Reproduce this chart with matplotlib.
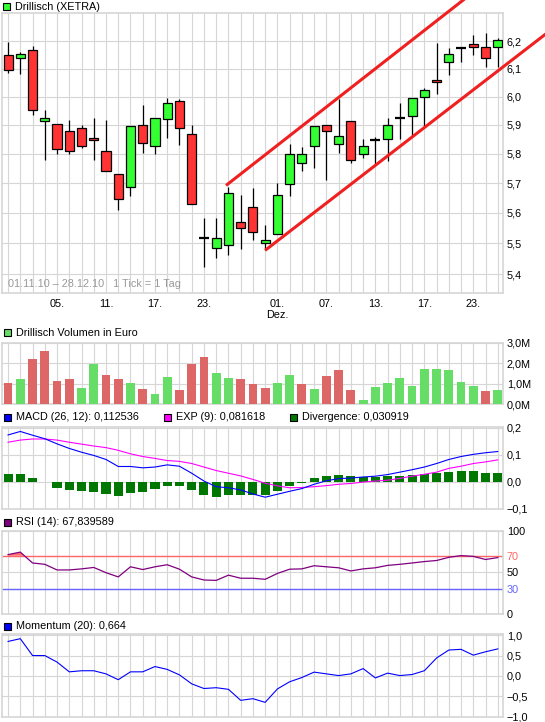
import matplotlib
matplotlib.use('Agg')
import matplotlib.pyplot as plt
from matplotlib.patches import Rectangle
from matplotlib.ticker import FixedLocator, FixedFormatter, NullLocator

plt.rcParams['font.family'] = ['Liberation Sans', 'DejaVu Sans']
plt.rcParams['font.size'] = 7.8

W, H = 545, 722

# --- Drillisch (XETRA) daily candles, 01.11.10 - 28.12.10 ---
opens = [6.150, 6.138, 6.167, 5.914, 5.904, 5.879, 5.890, 5.856, 5.810, 5.731,
         5.687, 5.900, 5.828, 5.922, 5.984, 5.869, 5.517, 5.484, 5.494, 5.570,
         5.618, 5.500, 5.529, 5.697, 5.769, 5.828, 5.900, 5.834, 5.914, 5.800,
         5.848, 5.852, 5.926, 5.931, 5.998, 6.059, 6.126, 6.174, 6.192, 6.181,
         6.180]
highs = [6.196, 6.160, 6.182, 5.952, 5.904, 5.916, 5.900, 5.926, 5.919, 5.731,
         5.896, 5.970, 5.925, 5.994, 5.990, 5.898, 5.584, 5.584, 5.688, 5.661,
         5.684, 5.559, 5.701, 5.832, 5.822, 5.896, 5.900, 5.990, 5.914, 5.852,
         5.857, 5.923, 5.977, 5.994, 6.029, 6.193, 6.174, 6.174, 6.225, 6.232,
         6.213]
lows = [6.083, 6.080, 5.935, 5.778, 5.800, 5.799, 5.820, 5.778, 5.741, 5.611,
        5.655, 5.802, 5.799, 5.854, 5.830, 5.629, 5.423, 5.452, 5.461, 5.480,
        5.512, 5.479, 5.529, 5.655, 5.740, 5.751, 5.709, 5.802, 5.768, 5.785,
        5.766, 5.775, 5.850, 5.862, 5.896, 6.011, 6.076, 6.126, 6.151, 6.108,
        6.106]
closes = [6.095, 6.152, 5.952, 5.923, 5.818, 5.811, 5.828, 5.848, 5.741, 5.646,
          5.896, 5.838, 5.925, 5.976, 5.890, 5.629, 5.517, 5.516, 5.668, 5.551,
          5.538, 5.510, 5.659, 5.800, 5.800, 5.896, 5.879, 5.862, 5.779, 5.828,
          5.848, 5.900, 5.926, 5.994, 6.025, 6.052, 6.152, 6.174, 6.180, 6.138,
          6.206]

# trend channel (start / end points, index + price)
upper_x = [17.9, 39.0]
upper_y = [5.695, 6.42]
lower_x = [21.1, 44.0]
lower_y = [5.48, 6.23]

price_ticks = [5.4, 5.5, 5.6, 5.7, 5.8, 5.9, 6.0, 6.1, 6.2]
price_labels = ['5,4', '5,5', '5,6', '5,7', '5,8', '5,9', '6,0', '6,1', '6,2']
date_pos = [4, 8, 12, 16, 22, 26, 30, 34, 38]
date_labels = ['05.', '11.', '17.', '23.', '01.\nDez.', '07.', '13.', '17.', '23.']

# --- volume in Mio. Euro ---
volume = [1.01, 1.21, 2.18, 2.58, 1.11, 1.21, 0.81, 1.97, 1.42, 1.21,
          1.01, 0.76, 0.52, 1.32, 0.71, 1.97, 2.28, 1.52, 1.26, 1.21,
          0.96, 0.81, 1.01, 1.42, 0.96, 0.76, 1.37, 1.67, 0.71, 0.20,
          0.86, 1.01, 1.26, 0.91, 1.72, 1.72, 1.67, 1.06, 0.91, 0.66,
          0.71]
vol_dir = ['r', 'g', 'r', 'r', 'r', 'r', 'g', 'g', 'r', 'r',
           'g', 'r', 'g', 'g', 'r', 'r', 'r', 'g', 'g', 'r',
           'r', 'r', 'g', 'g', 'r', 'g', 'r', 'r', 'r', 'g',
           'g', 'g', 'g', 'g', 'g', 'g', 'g', 'g', 'g', 'r',
           'g']

# --- MACD (26, 12), EXP (9), divergence ---
macd = [0.174, 0.187, 0.173, 0.160, 0.141, 0.124, 0.110, 0.098, 0.083, 0.057,
        0.057, 0.052, 0.055, 0.063, 0.058, 0.032, 0.003, -0.018, -0.022, -0.030,
        -0.045, -0.057, -0.046, -0.035, -0.025, -0.009, 0.004, 0.012, 0.014, 0.018,
        0.021, 0.027, 0.036, 0.045, 0.055, 0.068, 0.083, 0.094, 0.102, 0.108,
        0.1125]
signal = [0.147, 0.155, 0.159, 0.159, 0.155, 0.147, 0.140, 0.133, 0.127, 0.117,
          0.104, 0.094, 0.087, 0.079, 0.076, 0.068, 0.055, 0.042, 0.032, 0.022,
          0.009, -0.005, -0.015, -0.022, -0.021, -0.018, -0.014, -0.009, -0.006, -0.001,
          0.003, 0.006, 0.013, 0.021, 0.028, 0.036, 0.050, 0.058, 0.068, 0.074,
          0.0816]
diverg = [0.029, 0.029, 0.014, 0.0, -0.021, -0.031, -0.035, -0.038, -0.046, -0.054,
          -0.042, -0.038, -0.027, -0.017, -0.017, -0.031, -0.050, -0.058, -0.050, -0.050,
          -0.050, -0.050, -0.035, -0.015, -0.004, 0.014, 0.022, 0.026, 0.022, 0.018,
          0.018, 0.022, 0.022, 0.027, 0.029, 0.032, 0.036, 0.041, 0.041, 0.032,
          0.031]

# --- RSI (14) ---
rsi = [71.4, 74.4, 61.3, 59.7, 52.9, 52.9, 54.2, 55.9, 49.6, 44.5,
       56.7, 53.4, 56.7, 59.2, 53.8, 44.5, 40.8, 40.3, 46.6, 42.9,
       42.9, 41.6, 48.7, 53.8, 54.2, 58.0, 56.7, 55.5, 51.7, 54.2,
       55.5, 58.4, 59.7, 61.3, 63.0, 64.3, 68.1, 70.2, 69.3, 65.5,
       67.8]

# --- Momentum (20) ---
momentum = [0.847, 0.915, 0.50, 0.50, 0.34, 0.10, 0.127, 0.127, 0.05, -0.093,
            0.10, 0.10, 0.23, 0.16, 0.025, -0.195, -0.31, -0.29, -0.33, -0.60,
            -0.56, -0.65, -0.32, -0.144, -0.04, 0.093, 0.05, 0.008, 0.05, 0.18,
            -0.05, 0.068, 0.008, 0.034, 0.127, 0.44, 0.636, 0.653, 0.51, 0.593,
            0.664]

days = list(range(len(closes)))
GRID = '#d6d6d6'
RED = '#ff3333'
GREEN = '#33ff33'
XLIM = (-0.47, 40.45)
FS = 7.8

fig = plt.figure(figsize=(W / 100, H / 100), dpi=100)


def panel(top, bottom, left=2.3, right=503.3):
    # axes from pixel box (top-left origin)
    ax = fig.add_axes([left / W, 1 - bottom / H, (right - left) / W, (bottom - top) / H])
    ax.set_xlim(*XLIM)
    ax.set_xticks(days)
    ax.tick_params(axis='x', length=0, labelbottom=False)
    ax.yaxis.tick_right()
    ax.tick_params(axis='y', length=0, pad=2.5, labelsize=FS)
    ax.grid(True, color=GRID, lw=0.8)
    ax.set_axisbelow(True)
    for s in ax.spines.values():
        s.set_color(GRID)
        s.set_linewidth(1.2)
    return ax


def legend_item(x, y, color, text):
    fig.add_artist(Rectangle((x / W, 1 - (y + 3.5) / H), 7 / W, 7 / H,
                             transform=fig.transFigure, facecolor=color,
                             edgecolor='black', lw=0.8))
    fig.text((x + 12) / W, 1 - y / H, text, fontsize=FS, va='center', ha='left')


# ---------------- price ----------------
ax = panel(13.3, 293.3)
ax.set_yscale('log')
ax.set_ylim(5.339, 6.304)
ax.yaxis.set_major_locator(FixedLocator(price_ticks))
ax.yaxis.set_major_formatter(FixedFormatter(price_labels))
ax.yaxis.set_minor_locator(NullLocator())
ax.set_xticks(days)
ax.set_xticklabels([date_labels[date_pos.index(d)] if d in date_pos else '' for d in days])
ax.tick_params(axis='x', labelbottom=True, pad=4, labelsize=FS)

ax.vlines(days, lows, highs, color='black', lw=0.9, zorder=2)
for d in days:
    o, c = opens[d], closes[d]
    if o == c:
        ax.hlines(c, d - 0.4, d + 0.4, color='black', lw=1.6, zorder=3)
        continue
    col = GREEN if c > o else RED
    ax.bar(d, abs(c - o), bottom=min(o, c), width=0.74, color=col,
           edgecolor='black', lw=0.9, zorder=3)

ax.plot(upper_x, upper_y, color='#f02020', lw=2.2, clip_on=False, zorder=4)
ax.plot(lower_x, lower_y, color='#f02020', lw=2.2, clip_on=False, zorder=4)
ax.text(0.0, 5.352, '01.11.10 \u2013 28.12.10   1 Tick = 1 Tag', color='#999999',
        fontsize=FS, va='bottom', ha='left')
legend_item(3, 6.5, GREEN, 'Drillisch (XETRA)')

# ---------------- volume ----------------
ax = panel(342.6, 404.2)
ax.set_ylim(0, 3.0)
ax.set_yticks([0, 1, 2, 3])
ax.set_yticklabels(['0,0M', '1,0M', '2,0M', '3,0M'])
vcols = ['#dd6666' if v == 'r' else '#66dd66' for v in vol_dir]
ax.bar(days, volume, width=0.72, color=vcols, zorder=3)
legend_item(3.5, 333, '#66dd66', 'Drillisch Volumen in Euro')

# ---------------- MACD ----------------
ax = panel(426.6, 508.8)
ax.set_ylim(-0.1, 0.205)
ax.set_yticks([-0.1, 0.0, 0.1, 0.2])
ax.set_yticklabels(['\u22120,1', '0,0', '0,1', '0,2'])
ax.bar(days, diverg, width=0.74, color='#007700', zorder=2)
ax.plot(days, signal, color='#ff00ff', lw=0.8, zorder=3)
ax.plot(days, macd, color='#0000ff', lw=0.8, zorder=4)
legend_item(3.5, 417, '#0000ff', 'MACD (26, 12): 0,112536')
legend_item(164, 417, '#ff00ff', 'EXP (9): 0,081618')
legend_item(290, 417, '#007700', 'Divergence: 0,030919')

# ---------------- RSI ----------------
ax = panel(530.9, 613.8)
ax.set_ylim(0, 100)
ax.set_yticks([0, 30, 50, 70, 100])
ax.set_yticklabels(['0', '30', '50', '70', '100'])
ax.get_yticklabels()[1].set_color('#6666ff')
ax.get_yticklabels()[3].set_color('#ff6666')
ax.axhline(70, color='#ff6666', lw=1.0, zorder=2)
ax.axhline(30, color='#6666ff', lw=1.0, zorder=2)
ax.fill_between(days, rsi, 70, where=[r > 70 for r in rsi], interpolate=True,
                color='#ff7070', lw=0, zorder=2)
ax.plot(days, rsi, color='#800080', lw=0.9, zorder=3)
legend_item(3.5, 522, '#800080', 'RSI (14): 67,839589')

# ---------------- Momentum ----------------
ax = panel(634.4, 717.0)
ax.set_ylim(-1.01, 1.02)
ax.set_yticks([-1.0, -0.5, 0.0, 0.5, 1.0])
ax.set_yticklabels(['\u22121,0', '\u22120,5', '0,0', '0,5', '1,0'])
ax.plot(days, momentum, color='#0000ff', lw=0.8, zorder=3)
legend_item(3.5, 626, '#0000ff', 'Momentum (20): 0,664')

fig.savefig('out.png', dpi=100, facecolor='white')
